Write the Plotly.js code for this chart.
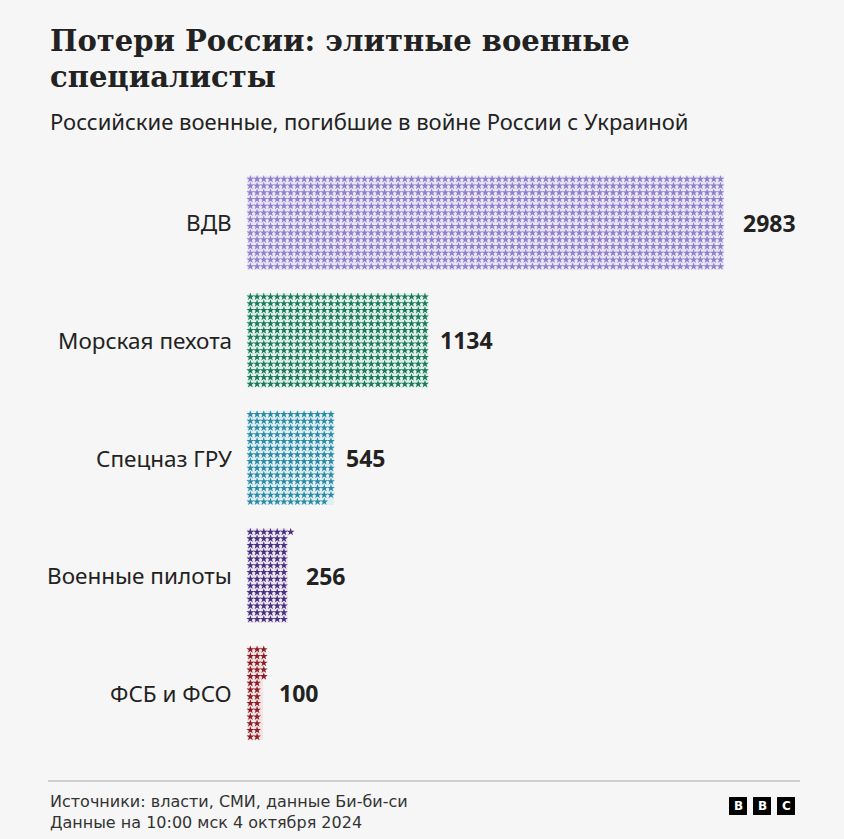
<!DOCTYPE html>
<html>
<head>
<meta charset="utf-8">
<script src="https://cdn.plot.ly/plotly-3.0.1.min.js"></script>
<style>
html,body{margin:0;padding:0;background:#f6f6f6;}
#chart{width:844px;height:839px;}
</style>
</head>
<body>
<div id="chart"></div>
<script>
// Data
const categories = ["ВДВ", "Морская пехота", "Спецназ ГРУ", "Военные пилоты", "ФСБ и ФСО"];
const values = [2983, 1134, 545, 256, 100];
const starColors = ["#8f80c8", "#1c7a5c", "#2b8ba6", "#4a2f7e", "#8c1c26"];
const bgColors = ["#ebe6f7", "#e2f1eb", "#e2eff3", "#ebe8f1", "#f3e4e4"];
const titleLines = ["Потери России: элитные военные", "специалисты"];
const subtitle = "Российские военные, погибшие в войне России с Украиной";
const footerLines = ["Источники: власти, СМИ, данные Би-би-си", "Данные на 10:00 мск 4 октября 2024"];
const peoplePerStar = 3;
const rowsPerColumn = 14;

// Layout constants
const plotLeft = 247, plotTop = 164, plotW = 553, plotH = 588;
const pxPerUnitY = plotH / 5;
const rowPitchPx = 6.72;
const dy = rowPitchPx / pxPerUnitY;
const colValue = peoplePerStar * rowsPerColumn; // people per column
const px2paperX = p => (p - plotLeft) / plotW;

const traces = [];
traces.push({
  type: "bar", orientation: "h",
  x: values, y: categories.map((c, i) => i),
  width: rowsPerColumn * dy,
  marker: {color: bgColors, line: {width: 0}},
  hoverinfo: "skip", showlegend: false
});
categories.forEach((cat, i) => {
  const n = Math.floor(values[i] / peoplePerStar);
  const xs = [], ys = [];
  for (let k = 0; k < n; k++) {
    const c = Math.floor(k / rowsPerColumn);
    const r = k % rowsPerColumn;
    xs.push(c * colValue + colValue / 2);
    ys.push(i + (r - (rowsPerColumn - 1) / 2) * dy);
  }
  traces.push({
    type: "scatter", mode: "markers", x: xs, y: ys,
    marker: {symbol: "star", size: 5.9, color: starColors[i], line: {width: 0}},
    hoverinfo: "skip", showlegend: false, cliponaxis: false
  });
});

const sans = "Noto Sans, sans-serif";
const annotations = [];
categories.forEach((cat, i) => {
  annotations.push({
    xref: "paper", yref: "y", x: 0, y: i, xanchor: "right", yanchor: "middle",
    xshift: -13, text: cat, showarrow: false,
    font: {family: sans, size: 22.5, color: "#222"}
  });
  const endCols = Math.ceil(values[i] / colValue);
  annotations.push({
    xref: "x", yref: "y", x: endCols * colValue, y: i, xanchor: "left", yanchor: "middle",
    xshift: 10, text: "<b>" + values[i] + "</b>", showarrow: false,
    font: {family: sans, size: 23, color: "#222"}
  });
});

function textAt(txt, px, pyCenter, font) {
  annotations.push({
    xref: "paper", yref: "paper", x: px2paperX(px), y: 1, xanchor: "left", yanchor: "middle",
    yshift: plotTop - pyCenter, align: "left", showarrow: false, text: txt, font: font
  });
}
const titleFont = {family: "DejaVu Serif, serif", size: 29, color: "#222"};
textAt("<b>" + titleLines[0] + "</b>", 48, 41, titleFont);
textAt("<b>" + titleLines[1] + "</b>", 48, 77, titleFont);
textAt(subtitle, 48, 121, {family: sans, size: 22, color: "#222"});
textAt(footerLines.join("<br>"), 48, 812, {family: "DejaVu Sans, sans-serif", size: 16, color: "#333"});

const shapes = [
  {type: "line", xref: "paper", yref: "paper", x0: px2paperX(48), x1: px2paperX(800),
   y0: -(781 - (plotTop + plotH)) / plotH, y1: -(781 - (plotTop + plotH)) / plotH,
   line: {color: "#aaa", width: 1}, layer: "above"}
];
["B", "B", "C"].forEach((ch, j) => {
  const x0 = 729 + j * 24;
  shapes.push({type: "rect", xref: "paper", yref: "paper",
    x0: px2paperX(x0), x1: px2paperX(x0 + 18),
    y0: -(797 - (plotTop + plotH)) / plotH, y1: -(815 - (plotTop + plotH)) / plotH,
    fillcolor: "#000", line: {width: 0}});
  annotations.push({
    xref: "paper", yref: "paper", x: px2paperX(x0 + 9), y: 1,
    xanchor: "center", yanchor: "middle", yshift: plotTop - 806, showarrow: false,
    text: "<b>" + ch + "</b>", font: {family: "DejaVu Sans, sans-serif", size: 12, color: "#fff"}
  });
});

const layout = {
  width: 844, height: 839,
  paper_bgcolor: "#f6f6f6", plot_bgcolor: "#f6f6f6",
  margin: {l: plotLeft, r: 844 - plotLeft - plotW, t: plotTop, b: 839 - plotTop - plotH},
  barmode: "overlay",
  xaxis: {range: [0, plotW / (477 / 2983)], visible: false, fixedrange: true},
  yaxis: {range: [4.5, -0.5], visible: false, fixedrange: true},
  annotations: annotations,
  shapes: shapes,
  showlegend: false
};

Plotly.newPlot("chart", traces, layout, {staticPlot: true});
</script>
</body>
</html>
